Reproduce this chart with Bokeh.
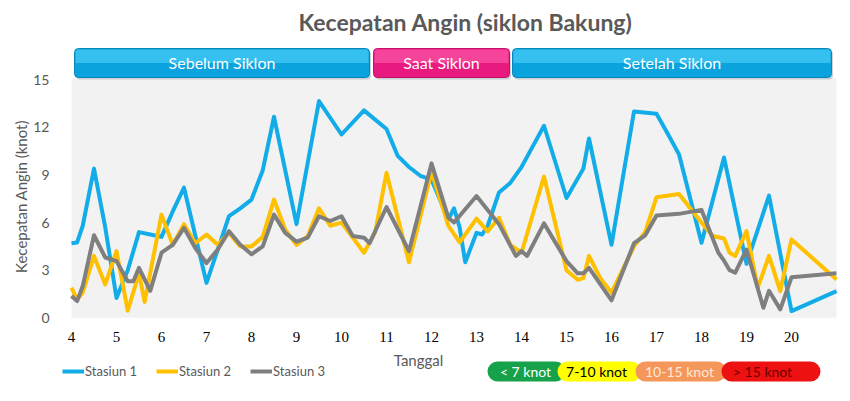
from bokeh.plotting import figure
from bokeh.models import Range1d, FixedTicker, ColumnDataSource, Label
from bokeh.core.properties import value
from bokeh.embed import file_html
from bokeh.resources import INLINE

# ---------------- data ----------------
judul = "Kecepatan Angin (siklon Bakung)"
seri_nama = ["Stasiun 1", "Stasiun 2", "Stasiun 3"]
seri_warna = ["#12ade8", "#ffc000", "#7f7f7f"]

s1_hari = [4.0, 4.125, 4.25, 4.5, 4.75, 5.0, 5.25, 5.5, 5.75, 6.0, 6.25, 6.5, 7.0, 7.25, 7.5, 7.75,
           8.0, 8.25, 8.5, 9.0, 9.5, 10.0, 10.5, 11.0, 11.25, 11.5, 11.75, 12.0, 12.375, 12.5, 12.625,
           12.75, 13.0, 13.125, 13.25, 13.5, 13.75, 14.0, 14.25, 14.5, 15.0, 15.375, 15.5, 16.0, 16.5,
           17.0, 17.25, 17.5, 18.0, 18.5, 19.0, 19.5, 20.0, 21.0]
s1_knot = [4.7, 4.75, 5.8, 9.4, 5.7, 1.25, 3.0, 5.4, 5.25, 5.1, 6.7, 8.2, 2.2, 4.3, 6.4, 6.9,
           7.45, 9.3, 12.67, 5.9, 13.66, 11.55, 13.07, 11.9, 10.2, 9.5, 8.95, 8.7, 6.2, 6.9, 5.7,
           3.5, 5.35, 5.25, 5.8, 7.9, 8.5, 9.5, 10.8, 12.1, 7.55, 9.4, 11.3, 4.6, 13.0,
           12.86, 11.6, 10.3, 4.73, 10.1, 3.4, 7.7, 0.42, 1.68]

s2_hari = [4.0, 4.125, 4.25, 4.5, 4.75, 5.0, 5.25, 5.5, 5.625, 6.0, 6.25, 6.5, 6.75, 7.0, 7.25, 7.5,
           7.75, 8.0, 8.25, 8.5, 8.75, 9.0, 9.25, 9.5, 9.75, 10.0, 10.25, 10.5, 10.75, 11.0, 11.5,
           12.0, 12.375, 12.625, 13.0, 13.25, 13.5, 13.75, 14.0, 14.5, 15.0, 15.25, 15.375, 15.5,
           15.75, 16.0, 16.5, 16.75, 17.0, 17.5, 17.75, 18.0, 18.25, 18.5, 18.625, 18.75, 19.0,
           19.25, 19.5, 19.75, 20.0, 21.0]
s2_knot = [1.9, 1.15, 1.6, 3.9, 2.1, 4.2, 0.45, 2.8, 1.0, 6.5, 4.6, 5.9, 4.7, 5.25, 4.6, 5.35,
           4.5, 4.5, 5.1, 7.45, 5.55, 4.6, 5.15, 6.9, 5.8, 6.0, 5.05, 4.1, 5.4, 9.14, 3.5,
           9.2, 5.8, 4.75, 6.25, 5.45, 6.3, 4.6, 4.1, 8.9, 3.0, 2.4, 2.5, 3.9,
           2.5, 1.58, 4.5, 5.4, 7.6, 7.8, 6.9, 6.0, 5.15, 5.0, 4.1, 3.9, 5.46,
           1.9, 3.9, 1.68, 4.94, 2.42]

s3_hari = [4.0, 4.125, 4.25, 4.5, 4.75, 5.0, 5.25, 5.375, 5.5, 5.75, 6.0, 6.25, 6.5, 6.75, 7.0,
           7.25, 7.5, 7.75, 8.0, 8.25, 8.5, 8.75, 9.0, 9.25, 9.5, 9.75, 10.0, 10.25, 10.5, 10.625,
           11.0, 11.5, 12.0, 12.375, 12.5, 13.0, 13.5, 13.875, 14.0, 14.125, 14.5, 15.0, 15.25,
           15.375, 15.5, 16.0, 16.5, 16.75, 17.0, 17.5, 18.0, 18.125, 18.375, 18.5, 18.625, 18.75,
           19.0, 19.375, 19.5, 19.75, 20.0, 21.0]
s3_knot = [1.37, 1.05, 2.0, 5.2, 3.8, 3.57, 2.3, 2.3, 3.15, 1.7, 4.1, 4.6, 5.67, 4.4, 3.45,
           4.3, 5.46, 4.6, 4.0, 4.5, 6.5, 5.35, 4.8, 5.05, 6.4, 6.1, 6.4, 5.15, 5.05, 4.7,
           6.98, 4.2, 9.73, 6.3, 6.0, 7.67, 5.9, 3.9, 4.2, 3.9, 5.95, 3.57, 2.8,
           2.8, 3.15, 1.1, 4.7, 5.2, 6.45, 6.55, 6.8, 5.9, 4.1, 3.6, 3.0, 2.85,
           4.3, 0.63, 1.7, 0.53, 2.55, 2.8]

tanggal_ticks = list(range(4, 21))
tanggal_labels = [str(t) for t in tanggal_ticks]
y_ticks = [0, 3, 6, 9, 12, 15]

fase_nama = ["Sebelum Siklon", "Saat Siklon", "Setelah Siklon"]
kategori_nama = ["< 7 knot", "7-10 knot", "10-15 knot", "> 15 knot"]

# ---------------- layout helpers (reference px -> data) ----------------
PX_X0, PX_PER_DAY = 72.0, 45.0
PX_Y0, PX_PER_KNOT = 318.3, 15.87
TOP_PX = 1.0       # reference row at the top of the figure canvas
LEFT_PX = 1.0      # reference column at the left of the figure canvas
WIDTH, HEIGHT = 841, 392
BORDER_LEFT = 57


def dx(px):
    return 4 + (px - PX_X0) / PX_PER_DAY


def dy(py):
    return (PX_Y0 - py) / PX_PER_KNOT


GREY = "#595959"
FONT = "Lato"

p = figure(width=WIDTH, height=HEIGHT,
           x_range=Range1d(dx(LEFT_PX + BORDER_LEFT), dx(LEFT_PX + WIDTH)),
           y_range=Range1d(dy(TOP_PX + HEIGHT), dy(TOP_PX)),
           output_backend="svg", toolbar_location=None, x_axis_location=None,
           min_border_left=BORDER_LEFT, min_border_right=0, min_border_top=0, min_border_bottom=0,
           background_fill_color="white", border_fill_color="white", outline_line_color=None)
p.xgrid.visible = False
p.ygrid.visible = False

# y axis
p.yaxis.ticker = FixedTicker(ticks=y_ticks)
p.yaxis.axis_line_color = None
p.yaxis.major_tick_line_color = None
p.yaxis.minor_tick_line_color = None
p.yaxis.major_label_standoff = 2
p.yaxis.major_label_text_font = FONT
p.yaxis.major_label_text_font_size = "14px"
p.yaxis.major_label_text_color = GREY
p.yaxis.axis_label = "Kecepatan Angin (knot)"
p.yaxis.axis_label_text_font = FONT
p.yaxis.axis_label_text_font_size = "15px"
p.yaxis.axis_label_text_font_style = "normal"
p.yaxis.axis_label_text_color = GREY
p.yaxis.axis_label_standoff = 0

# plot area background
p.quad(left=[tanggal_ticks[0]], right=[max(s1_hari)], bottom=[y_ticks[0]], top=[dy(79)],
       fill_color="#f2f2f2", line_color=None)

# x tick labels
tick_src = ColumnDataSource(dict(x=tanggal_ticks, y=[dy(337)] * len(tanggal_ticks), t=tanggal_labels))
p.text(x="x", y="y", text="t", source=tick_src, text_font=value("Liberation Serif"),
       text_font_size="15px", text_color="black", text_align="center", text_baseline="middle")

# series
for hari, knot, nama, warna in [(s1_hari, s1_knot, seri_nama[0], seri_warna[0]),
                                (s2_hari, s2_knot, seri_nama[1], seri_warna[1]),
                                (s3_hari, s3_knot, seri_nama[2], seri_warna[2])]:
    p.line(hari, knot, line_color=warna, line_width=4, line_join="round", legend_label=nama)

lg = p.legend[0]
lg.orientation = "horizontal"
lg.location = (5, HEIGHT - (372 - TOP_PX) - 8)
lg.background_fill_alpha = 0
lg.border_line_color = None
lg.padding = 0
lg.margin = 0
lg.spacing = 19
lg.glyph_width = 22
lg.glyph_height = 16
lg.label_standoff = 1
lg.label_text_font = FONT
lg.label_text_font_size = "13px"
lg.label_text_color = GREY

# phase banners
fase_left = [dx(75), dx(374), dx(513)]
fase_right = [dx(370), dx(510), dx(832)]
fase_bottom, fase_top = dy(78), dy(49)
fase_mid = (fase_bottom + fase_top) / 2
fase_fill = ["#0ba3dd", "#e81a80", "#0ba3dd"]
fase_light = ["#3ec6f2", "#f74c9f", "#3ec6f2"]
fase_line = ["#0a86bb", "#c3106a", "#0a86bb"]
sx, sy = 1.5 / PX_PER_DAY, 2.0 / PX_PER_KNOT
p.quad(left=[l + sx for l in fase_left], right=[r + sx for r in fase_right],
       bottom=fase_bottom - sy, top=fase_top - sy, fill_color="#aab4bb", fill_alpha=0.6,
       line_color=None, border_radius=4)
p.quad(left=fase_left, right=fase_right, bottom=fase_bottom, top=fase_top,
       fill_color=fase_fill, line_color=fase_line, line_width=1, border_radius=4)
p.quad(left=[l + 1 / PX_PER_DAY for l in fase_left], right=[r - 1 / PX_PER_DAY for r in fase_right],
       bottom=fase_mid, top=fase_top - 1 / PX_PER_KNOT, fill_color=fase_light, fill_alpha=0.85,
       line_color=None, border_radius=(3, 3, 0, 0))
p.text(x=[(l + r) / 2 for l, r in zip(fase_left, fase_right)], y=[dy(63)] * 3, text=fase_nama,
       text_font=value(FONT), text_font_size="16px", text_color="white",
       text_align="center", text_baseline="middle")

# category pills
pil_left = [dx(488), dx(558), dx(636), dx(722)]
pil_right = [dx(566), dx(642), dx(727), dx(821)]
pil_text_x = [dx(526), dx(597), dx(680), dx(763)]
pil_fill = ["#16a24b", "#ffff00", "#f5965a", "#ee1111"]
pil_text = ["white", "black", "#fde9d9", "#6b0000"]
pil_bottom, pil_top = dy(382), dy(362)
p.quad(left=pil_left, right=pil_right, bottom=pil_bottom, top=pil_top,
       fill_color=pil_fill, line_color=None, border_radius=10)
p.text(x=pil_text_x, y=[(pil_bottom + pil_top) / 2] * 4, text=kategori_nama, text_color=pil_text,
       text_font=value(FONT), text_font_size="14px", text_align="center", text_baseline="middle")

# title and x-axis title
p.add_layout(Label(x=dx(466), y=dy(22), text=judul, text_font=FONT, text_font_size="23px",
                   text_font_style="bold", text_color=GREY, text_align="center",
                   text_baseline="middle"))
p.add_layout(Label(x=dx(419), y=dy(360), text="Tanggal", text_font=FONT, text_font_size="15px",
                   text_color=GREY, text_align="center", text_baseline="middle"))

open("out.html", "w").write(file_html(p, INLINE))
